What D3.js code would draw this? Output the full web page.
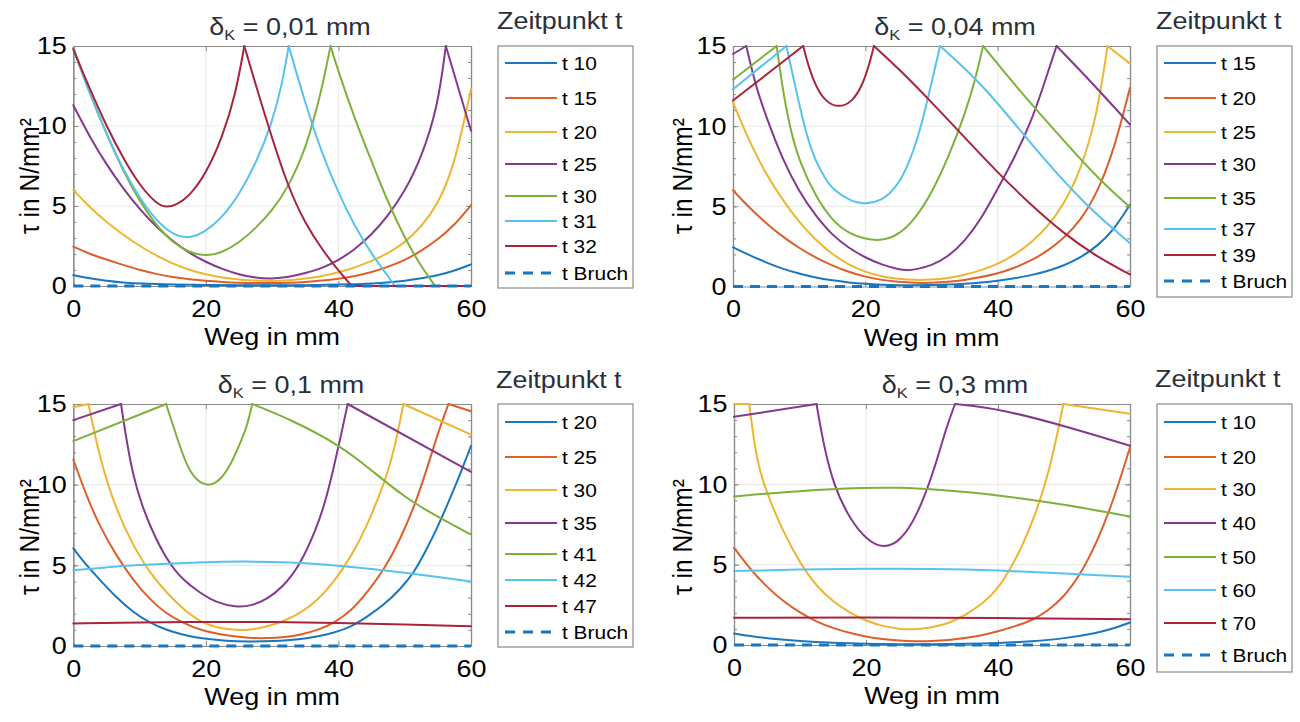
<!DOCTYPE html>
<html><head><meta charset="utf-8">
<script src="https://cdn.jsdelivr.net/npm/d3@7"></script>
<style>
body{margin:0;background:#fff}
svg{display:block}
text{font-family:"Liberation Sans",Arial,Helvetica,sans-serif}
</style>
</head><body>
<svg id="chart" width="1300" height="722"></svg>
<script>
// ---------- data ----------
const colors = ["#1877c0","#dd5f2a","#eeb52e","#85388f","#7db23a","#58c2ee","#a8243d"];
const xTicks = [0,20,40,60];
const yTicks = [0,5,10,15];
const yMinor = d3.range(0,16,1);
const xDomain = [0,60];
const yDomain = [0,15];
const titles = ["0,01","0,04","0,1","0,3"];
const legendTitle = "Zeitpunkt t";
const xLabel = "Weg in mm";
const yLabel = "τ in N/mm²";

// Panel 1: δK = 0,01 mm
const p1_labels = ["t 10","t 15","t 20","t 25","t 30","t 31","t 32","t Bruch"];
const p1_t10 = [[0,0.68],[2.5,0.47],[5,0.32],[7.5,0.22],[10,0.15],[15,0.09],[20,0.06],[25,0.04],[30,0.04],[35,0.05],[40,0.08],[45,0.15],[50,0.3],[55,0.65],[57.5,0.95],[60,1.35]];
const p1_t15 = [[0,2.46],[2.5,2.0],[5,1.65],[7.5,1.32],[10,1.0],[12.5,0.75],[15,0.55],[17.5,0.42],[20,0.32],[22.5,0.25],[25,0.2],[27.5,0.18],[30,0.18],[32.5,0.2],[35,0.25],[37.5,0.33],[40,0.45],[42.5,0.62],[45,0.85],[47.5,1.2],[50,1.6],[52.5,2.2],[55,2.9],[57.5,3.8],[60,5.05]];
const p1_t20 = [[0,6.0],[2.5,4.9],[5,4.0],[7.5,3.2],[10,2.5],[12.5,1.9],[15,1.4],[17.5,1.0],[20,0.72],[22.5,0.52],[25,0.4],[27.5,0.33],[30,0.31],[32.5,0.35],[35,0.45],[37.5,0.62],[40,0.85],[42.5,1.15],[45,1.55],[47.5,2.05],[50,2.7],[52.5,3.7],[55,5.1],[57.5,7.5],[60,12.3]];
const p1_t25 = [[0,11.3],[2.5,9.3],[5,7.6],[7.5,6.1],[10,4.8],[12.5,3.7],[15,2.8],[17.5,2.05],[20,1.5],[22.5,1.05],[25,0.72],[27.5,0.5],[30,0.45],[32.5,0.55],[35,0.8],[37.5,1.1],[40,1.6],[42.5,2.3],[45,3.2],[47.5,4.4],[50,5.9],[52.5,8.0],[55,11.2],[56.2,15],[60,9.7]];
const p1_t30 = [[0,14.9],[2.5,12.0],[5,9.5],[7.5,7.2],[10,5.3],[12.5,3.8],[15,2.7],[17.5,2.1],[20,1.85],[22.5,2.1],[25,2.7],[27.5,3.6],[30,4.7],[32.5,6.2],[35,8.6],[36,10.0],[37.5,12.3],[38.8,15],[40,13.4],[42.5,10.4],[45,7.8],[47.5,5.2],[50,3.0],[52.5,1.2],[54.6,0],[60,0]];
const p1_t31 = [[0,14.8],[2.5,12.0],[5,9.5],[7.5,7.3],[10,5.5],[12.5,4.1],[15,3.2],[17.5,2.95],[20,3.4],[22.5,4.3],[25,5.7],[27.5,7.6],[30,10.2],[31.5,12.6],[32.5,15],[35,11.4],[37.5,8.3],[40,5.8],[42.5,3.7],[45,2.0],[47.5,0.6],[48.5,0],[60,0]];
const p1_t32 = [[0,14.8],[2.5,12.3],[5,10.0],[7.5,8.0],[10,6.3],[12.5,5.15],[14,4.9],[15.5,5.05],[17.5,5.6],[20,7.0],[22.5,9.3],[24.5,12.0],[25.8,15],[27.5,12.6],[30,9.2],[32.5,6.1],[35,3.9],[37.5,2.3],[40,0.95],[42,0],[60,0]];
const p1_bruch = [[0,0],[60,0]];

// Panel 2: δK = 0,04 mm
const p2_labels = ["t 15","t 20","t 25","t 30","t 35","t 37","t 39","t Bruch"];
const p2_t15 = [[0,2.45],[2.5,1.95],[5,1.5],[7.5,1.1],[10,0.8],[12.5,0.55],[15,0.38],[17.5,0.25],[20,0.16],[22.5,0.11],[25,0.08],[27.5,0.08],[30,0.09],[32.5,0.12],[35,0.17],[37.5,0.25],[40,0.36],[42.5,0.5],[45,0.7],[47.5,0.95],[50,1.3],[52.5,1.8],[55,2.5],[57.5,3.5],[60,5.1]];
const p2_t20 = [[0,6.0],[2.5,4.9],[5,3.95],[7.5,3.1],[10,2.4],[12.5,1.8],[15,1.3],[17.5,0.9],[20,0.6],[22.5,0.4],[25,0.28],[27.5,0.22],[30,0.22],[32.5,0.28],[35,0.4],[37.5,0.58],[40,0.8],[42.5,1.15],[45,1.6],[47.5,2.2],[50,3.0],[52.5,4.1],[55,5.8],[57.5,8.4],[60,12.4]];
const p2_t25 = [[0,11.5],[2.5,9.0],[5,7.0],[7.5,5.4],[10,4.0],[12.5,2.9],[15,2.0],[17.5,1.35],[20,0.9],[22.5,0.62],[25,0.46],[27.5,0.4],[30,0.42],[32.5,0.52],[35,0.72],[37.5,1.0],[40,1.4],[42.5,1.95],[45,2.7],[47.5,3.7],[50,5.1],[52.5,7.2],[55,10.6],[56.6,15],[60,13.9]];
const p2_t30 = [[0,14.5],[2.0,15],[3.5,12.4],[5,10.6],[7.5,7.9],[10,5.9],[12.5,4.4],[15,3.2],[17.5,2.4],[20,1.8],[22.5,1.35],[25,1.08],[26.2,1.0],[27.5,1.05],[30,1.3],[32.5,1.85],[35,2.8],[37.5,4.2],[40,6.1],[42.5,8.0],[45,10.2],[47,12.6],[48.9,15],[54.5,12.6],[60,10.1]];
const p2_t35 = [[0,12.9],[6.6,15],[7.5,12.3],[8.6,9.9],[10,7.8],[12.5,5.6],[15,4.1],[17.5,3.3],[20,2.95],[22.5,2.85],[25,3.2],[27.5,4.2],[30,5.8],[32.5,8.0],[35,10.7],[36.5,12.7],[37.8,15],[42.9,12.4],[50.4,8.9],[55.5,6.6],[60,4.95]];
const p2_t37 = [[0,12.3],[8.07,15],[9.5,12.3],[11.1,9.4],[12.5,7.8],[14.1,6.6],[15,6.1],[17.5,5.35],[20.2,5.1],[22.5,5.4],[23.7,5.8],[25,6.4],[26.5,7.6],[28,9.3],[29.5,11.8],[31.3,15],[37.8,12.6],[45.4,8.7],[52.9,5.2],[60,2.7]];
const p2_t39 = [[0,11.6],[10.6,15],[11.5,13.6],[12.5,12.5],[14,11.5],[16,11.15],[18,11.5],[19.5,12.5],[20.5,13.7],[21.3,15],[25,13.6],[30,11.5],[35,9.3],[40,7.1],[45,5.1],[50,3.3],[55,1.85],[60,0.75]];
const p2_bruch = [[0,0],[60,0]];

// Panel 3: δK = 0,1 mm
const p3_labels = ["t 20","t 25","t 30","t 35","t 41","t 42","t 47","t Bruch"];
const p3_t20 = [[0,6.05],[2,5.0],[4,4.1],[6.5,3.0],[9,2.1],[11.5,1.45],[14,1.0],[16.5,0.7],[19,0.48],[22.5,0.33],[26.7,0.27],[30,0.3],[34.2,0.41],[37,0.6],[39.2,0.8],[42,1.2],[44.3,1.8],[47,2.6],[49.3,3.5],[51.5,4.6],[53.3,6.0],[55,7.4],[56.8,9.1],[58.5,10.8],[60,12.4]];
const p3_t25 = [[0,11.55],[2,9.3],[4,7.4],[6.5,5.6],[9,4.1],[11.5,2.9],[14,2.0],[16.5,1.45],[19,1.0],[22.5,0.68],[26.7,0.48],[29.2,0.48],[32,0.55],[34.2,0.68],[37,1.0],[39.2,1.4],[42,2.2],[44.3,3.3],[47,4.8],[49.3,6.6],[51.5,8.7],[53.3,10.9],[55,13.2],[56.6,15],[60,14.55]];
const p3_t30 = [[0,14.8],[2.3,15],[4,11.55],[6.5,8.4],[9.05,6.2],[11.6,4.5],[14.1,3.3],[16.5,2.3],[19.1,1.5],[21.5,1.15],[24.1,1.0],[26.5,0.97],[29.2,1.2],[31.5,1.5],[34.2,2.0],[37,2.9],[39.2,3.9],[42,5.6],[44.3,7.4],[47.3,10.5],[48.5,12.3],[49.8,15],[60,13.1]];
const p3_t35 = [[0,14.0],[7.2,15],[8,12.8],[9.05,10.5],[10.3,8.8],[11.6,7.4],[14.1,5.3],[16.5,4.1],[19.1,3.3],[21.5,2.7],[24.5,2.4],[27,2.5],[29.2,2.9],[31.5,3.6],[34.2,5.0],[36.7,7.3],[38,8.9],[39.2,10.9],[40.3,12.9],[41.4,15],[60,10.8]];
const p3_t41 = [[0,12.7],[14,15],[15.1,13.6],[17.1,11.1],[18.7,10.2],[20.4,9.9],[22,10.2],[23.6,11.1],[25.2,12.6],[26.2,13.6],[27,15],[33,14.0],[40,12.5],[45,10.9],[50,9.2],[55,8.0],[60,6.9]];
const p3_t42 = [[0,4.7],[5,4.88],[10,5.02],[15,5.12],[20,5.2],[25,5.24],[30,5.22],[35,5.14],[40,4.98],[45,4.78],[50,4.55],[55,4.28],[60,4.0]];
const p3_t47 = [[0,1.4],[10,1.47],[20,1.5],[30,1.49],[40,1.43],[50,1.33],[60,1.22]];
const p3_bruch = [[0,0],[60,0]];

// Panel 4: δK = 0,3 mm
const p4_labels = ["t 10","t 20","t 30","t 40","t 50","t 60","t 70","t Bruch"];
const p4_t10 = [[0,0.72],[2.5,0.55],[5,0.42],[10,0.24],[15,0.13],[20,0.07],[25,0.05],[30,0.05],[35,0.07],[40,0.12],[45,0.22],[50,0.4],[55,0.75],[57.5,1.02],[60,1.4]];
const p4_t20 = [[0,6.05],[2.5,4.7],[5,3.6],[7.5,2.7],[10,2.0],[12.5,1.45],[15,1.05],[17.5,0.75],[20,0.52],[22.5,0.36],[25,0.27],[27.5,0.23],[30,0.24],[32.5,0.3],[35,0.42],[37.5,0.6],[40,0.85],[42.5,1.15],[45,1.5],[47.5,2.1],[50,3.0],[52.5,4.4],[55,6.4],[57.5,9.0],[60,12.3]];
const p4_t30 = [[0,15],[2.3,15],[3.4,11.5],[4.9,9.5],[7.5,7.0],[10,5.1],[12.5,3.65],[15,2.7],[17.6,2.0],[20,1.5],[22.6,1.16],[25,1.0],[27.2,0.95],[30,1.08],[32.7,1.37],[35,1.85],[37.8,2.6],[40,3.5],[41.8,4.7],[43.5,6.0],[45.4,7.8],[47.9,10.9],[49.9,15],[60,14.4]];
const p4_t40 = [[0,14.2],[12.5,15],[13.5,12.6],[15.1,9.9],[17.6,7.8],[20.1,6.55],[22.6,6.0],[25.2,6.45],[27.7,8.0],[30.2,10.7],[32.2,13.6],[33.5,15],[40.3,14.7],[50.4,13.6],[60,12.4]];
const p4_t50 = [[0,9.25],[10,9.6],[20,9.8],[25,9.8],[30,9.7],[40,9.35],[50,8.75],[60,8.0]];
const p4_t60 = [[0,4.6],[10,4.7],[20,4.75],[30,4.75],[40,4.65],[50,4.45],[60,4.25]];
const p4_t70 = [[0,1.7],[20,1.72],[40,1.68],[60,1.6]];
const p4_bruch = [[0,0],[60,0]];

const panelSeries = [
  [p1_t10,p1_t15,p1_t20,p1_t25,p1_t30,p1_t31,p1_t32,p1_bruch],
  [p2_t15,p2_t20,p2_t25,p2_t30,p2_t35,p2_t37,p2_t39,p2_bruch],
  [p3_t20,p3_t25,p3_t30,p3_t35,p3_t41,p3_t42,p3_t47,p3_bruch],
  [p4_t10,p4_t20,p4_t30,p4_t40,p4_t50,p4_t60,p4_t70,p4_bruch]
];
const panelLabels = [p1_labels,p2_labels,p3_labels,p4_labels];

// ---------- layout ----------
const layout = [
 {l:73.3,r:471,t:46,b:286, titleX:290,titleY:35, ylabX:39, ylabY:176, legTX:497, legTY:29, box:[498,46,135,242], items:[17,52,86,118,150,175,200,227]},
 {l:733,r:1130,t:46,b:286.5, titleX:955,titleY:35, ylabX:692, ylabY:176, legTX:1156, legTY:29, box:[1157,46,135,251], items:[17,52,86,118,152,183,209,235]},
 {l:73.3,r:471,t:404,b:646, titleX:291,titleY:393, ylabX:39, ylabY:537, legTX:496, legTY:388, box:[498,404,135,243], items:[18,53,86,119,150,176,202,228]},
 {l:734,r:1130,t:404,b:645, titleX:955,titleY:393, ylabX:692, ylabY:537, legTX:1155, legTY:387, box:[1157,404,135,268], items:[18,53,85,119,153,186,219,251]}
];

const SX = 1.1;          // horizontal stretch of the reference text
const boxColor = "#8a8a8a";
const gridColor = "#ebebeb";
const titleColor = "#2b2f38";

const svg = d3.select("#chart");

function txt(g, x, y, s, size, anchor, fill, sx) {
  return g.append("text")
    .attr("transform", `translate(${x},${y}) scale(${sx||SX},1)`)
    .attr("text-anchor", anchor)
    .style("font-size", size + "px")
    .attr("fill", fill)
    .text(s);
}

function splitSegments(pts) {
  const segs = []; let cur = [pts[0]];
  for (let i = 1; i < pts.length; i++) {
    const p = pts[i];
    cur.push(p);
    if (i < pts.length - 1 && (p[1] >= 15 || p[1] === 0)) { segs.push(cur); cur = [p]; }
  }
  segs.push(cur);
  return segs;
}

layout.forEach((L, pi) => {
  const g = svg.append("g");
  const x = d3.scaleLinear().domain(xDomain).range([L.l, L.r]);
  const y = d3.scaleLinear().domain(yDomain).range([L.b, L.t]);

  // grid
  g.append("g").selectAll("line").data(xTicks.slice(1,-1)).join("line")
    .attr("x1", d => x(d)).attr("x2", d => x(d)).attr("y1", L.t).attr("y2", L.b)
    .attr("stroke", gridColor).attr("stroke-width", 1.2);
  g.append("g").selectAll("line").data(yTicks.slice(1,-1)).join("line")
    .attr("y1", d => y(d)).attr("y2", d => y(d)).attr("x1", L.l).attr("x2", L.r)
    .attr("stroke", gridColor).attr("stroke-width", 1.2);

  // axes
  const axB = g.append("g").attr("transform", `translate(0,${L.b})`)
    .call(d3.axisBottom(x).tickValues(xTicks).tickSizeInner(-5).tickSizeOuter(0).tickPadding(13).tickFormat(d3.format("d")));
  const axT = g.append("g").attr("transform", `translate(0,${L.t})`)
    .call(d3.axisTop(x).tickValues(xTicks).tickSizeInner(-5).tickSizeOuter(0).tickFormat(""));
  const axL = g.append("g").attr("transform", `translate(${L.l},0)`)
    .call(d3.axisLeft(y).tickValues(yTicks).tickSizeInner(-5).tickSizeOuter(0).tickPadding(6).tickFormat(d3.format("d")));
  const axR = g.append("g").attr("transform", `translate(${L.r},0)`)
    .call(d3.axisRight(y).tickValues(yTicks).tickSizeInner(-5).tickSizeOuter(0).tickFormat(""));
  const mL = g.append("g").attr("transform", `translate(${L.l},0)`)
    .call(d3.axisLeft(y).tickValues(yMinor).tickSizeInner(-3).tickSizeOuter(0).tickFormat(""));
  const mR = g.append("g").attr("transform", `translate(${L.r},0)`)
    .call(d3.axisRight(y).tickValues(yMinor).tickSizeInner(-3).tickSizeOuter(0).tickFormat(""));
  [axB,axT,axL,axR,mL,mR].forEach(a => {
    a.selectAll("path.domain").attr("stroke", boxColor).attr("stroke-width", 1.2);
    a.selectAll(".tick line").attr("stroke", boxColor).attr("stroke-width", 1);
    a.selectAll(".tick text").attr("fill", "#000").style("font-size", "24.5px")
      .attr("transform", `scale(${SX},1)`);
  });
  axB.selectAll(".tick text").attr("dy", "0").attr("y", 31);

  // series
  const line = d3.line().x(d => x(d[0])).y(d => y(d[1])).curve(d3.curveBasis);
  const series = panelSeries[pi];
  series.forEach((pts, si) => {
    const isBruch = si === series.length - 1;
    const segs = isBruch ? [pts] : splitSegments(pts);
    segs.forEach(seg => {
      g.append("path").attr("d", line(seg)).attr("fill", "none")
        .attr("stroke", isBruch ? colors[0] : colors[si])
        .attr("stroke-width", isBruch ? 3.2 : 2)
        .attr("stroke-linecap", isBruch ? "butt" : "round")
        .attr("stroke-linejoin", "round")
        .attr("stroke-dasharray", isBruch ? "10,7" : null);
    });
  });

  // title
  const tt = g.append("text")
    .attr("transform", `translate(${L.titleX},${L.titleY}) scale(${SX},1)`)
    .attr("text-anchor", "middle").style("font-size", "24.5px").attr("fill", titleColor);
  tt.append("tspan").text("δ");
  tt.append("tspan").attr("dy", 5).style("font-size", "15px").text("K");
  tt.append("tspan").attr("dy", -5).text(" = " + titles[pi] + " mm");

  // axis labels
  txt(g, (L.l + L.r) / 2, L.b + 59, xLabel, 24.5, "middle", "#000");
  g.append("text")
    .attr("transform", `translate(${L.ylabX},${L.ylabY}) scale(${SX},1) rotate(-90)`)
    .attr("text-anchor", "middle").style("font-size", "24.5px").attr("fill", "#000")
    .text(yLabel);

  // legend
  txt(g, L.legTX, L.legTY, legendTitle, 23, "start", titleColor, 1.17);
  const [bx, by, bw, bh] = L.box;
  g.append("rect").attr("x", bx).attr("y", by).attr("width", bw).attr("height", bh)
    .attr("fill", "#fff").attr("stroke", boxColor).attr("stroke-width", 1.2);
  panelLabels[pi].forEach((lab, i) => {
    const yy = by + L.items[i];
    const isBruch = i === panelLabels[pi].length - 1;
    g.append("line").attr("x1", bx + 7).attr("x2", bx + 59).attr("y1", yy).attr("y2", yy)
      .attr("stroke", isBruch ? colors[0] : colors[i])
      .attr("stroke-width", isBruch ? 3.2 : 2)
      .attr("stroke-dasharray", isBruch ? "10,8" : null);
    txt(g, bx + 64, yy + 7, lab, 19, "start", "#000");
  });
});
</script>
</body></html>
